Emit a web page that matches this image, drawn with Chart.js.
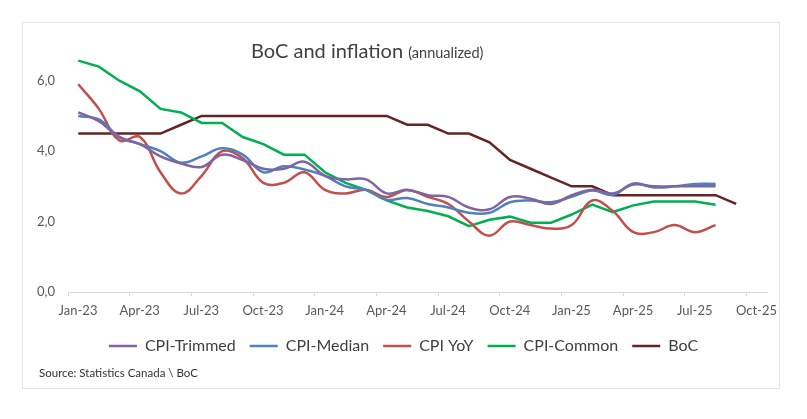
<!DOCTYPE html>
<html>
<head>
<meta charset="utf-8">
<script src="https://cdn.jsdelivr.net/npm/chart.js@4"></script>
<style>
  body { margin: 0; background: #fff; width: 807px; height: 419px; position: relative; overflow: hidden; font-family: Lato, sans-serif; }
  #frame { position: absolute; left: 22px; top: 22px; width: 756px; height: 365px; border: 1px solid #e6e6e6; }
  #chart { position: absolute; left: 0; top: 0; }
  #title { position: absolute; left: 251px; top: 40px; font-size: 20px; line-height: 1; color: #404040; white-space: nowrap; }
  #title small { font-size: 14.5px; }
  #source { position: absolute; left: 39px; top: 367px; font-size: 11.5px; line-height: 1; color: #333; white-space: nowrap; }
</style>
</head>
<body>
<div id="frame"></div>
<canvas id="chart" width="807" height="419"></canvas>
<div id="title">BoC and inflation <small>(annualized)</small></div>
<div id="source">Source: Statistics Canada \ BoC</div>
<script>
// monthly values, first point = Jan-23
const tickLabels = ['Jan-23', 'Apr-23', 'Jul-23', 'Oct-23', 'Jan-24', 'Apr-24', 'Jul-24', 'Oct-24', 'Jan-25', 'Apr-25', 'Jul-25', 'Oct-25'];

const cpiTrimmed = [5.1, 4.85, 4.4, 4.2, 3.85, 3.65, 3.55, 3.9, 3.75, 3.5, 3.5, 3.7, 3.3, 3.2, 3.2, 2.8, 2.9, 2.75, 2.7, 2.4, 2.35, 2.7, 2.65, 2.5, 2.75, 2.9, 2.8, 3.05, 3.0, 3.0, 3.0, 3.0];
const cpiMedian = [5.0, 4.9, 4.4, 4.2, 4.0, 3.67, 3.85, 4.08, 3.9, 3.4, 3.57, 3.48, 3.3, 3.0, 2.9, 2.62, 2.67, 2.5, 2.4, 2.25, 2.25, 2.55, 2.6, 2.55, 2.7, 2.88, 2.76, 3.08, 2.97, 3.0, 3.07, 3.07];
const cpiYoY = [5.9, 5.2, 4.3, 4.4, 3.4, 2.8, 3.3, 4.0, 3.8, 3.1, 3.1, 3.4, 2.9, 2.8, 2.9, 2.7, 2.9, 2.7, 2.5, 2.0, 1.6, 2.0, 1.9, 1.8, 1.9, 2.6, 2.3, 1.7, 1.7, 1.9, 1.7, 1.9];
const cpiCommon = [6.57, 6.4, 6.0, 5.7, 5.2, 5.1, 4.8, 4.8, 4.4, 4.2, 3.9, 3.9, 3.4, 3.1, 2.9, 2.6, 2.4, 2.3, 2.15, 1.87, 2.05, 2.14, 1.97, 1.97, 2.2, 2.48, 2.27, 2.46, 2.57, 2.57, 2.57, 2.48];
const boc = [4.5, 4.5, 4.5, 4.5, 4.5, 4.75, 5, 5, 5, 5, 5, 5, 5, 5, 5, 5, 4.75, 4.75, 4.5, 4.5, 4.25, 3.75, 3.5, 3.25, 3, 3, 2.75, 2.75, 2.75, 2.75, 2.75, 2.75, 2.5];

const font = 'Lato';

// each monthly value sits in the middle of its month
function toPoints(values) {
    return values.map((v, i) => ({ x: i + 0.5, y: v }));
}

function makeSeries(label, values, color, smooth) {
    return {
        label: label,
        data: toPoints(values),
        borderColor: color,
        backgroundColor: color,
        borderWidth: 2.5,
        pointRadius: 0,
        pointStyle: 'line',
        tension: smooth ? 0.4 : 0,
        fill: false,
    };
}

const datasets = [
    makeSeries('CPI-Trimmed', cpiTrimmed, '#8064A2', true),
    makeSeries('CPI-Median', cpiMedian, '#4F81BD', true),
    makeSeries('CPI YoY', cpiYoY, '#C0504D', true),
    makeSeries('CPI-Common', cpiCommon, '#00B050', false),
    makeSeries('BoC', boc, '#632523', false),
];

// nudge the legend a little to the right, like the original
const legendShift = {
    id: 'legendShift',
    afterLayout(chart) {
        chart.legend.left += 10;
        chart.legend.right += 10;
    },
};

new Chart(document.getElementById('chart').getContext('2d'), {
    type: 'line',
    data: { datasets: datasets },
    plugins: [legendShift],
    options: {
        responsive: false,
        animation: false,
        devicePixelRatio: 1,
        layout: { padding: { left: 20, right: 40, top: 45.5, bottom: 55 } },
        scales: {
            x: {
                type: 'linear',
                min: 0,
                max: 34,
                // one tick per quarter
                afterBuildTicks: (scale) => { scale.ticks = tickLabels.map((_, i) => ({ value: i * 3 })); },
                afterFit: (scale) => { scale.height = 32; },
                ticks: {
                    autoSkip: false,
                    maxRotation: 0,
                    labelOffset: 10,
                    padding: 7,
                    color: '#595959',
                    font: { family: font, size: 13 },
                    callback: (v) => tickLabels[v / 3],
                },
                grid: { drawOnChartArea: false, drawTicks: true, tickLength: 4, color: '#d9d9d9', lineWidth: 1 },
                border: { display: true, color: '#d9d9d9', width: 1 },
            },
            y: {
                min: 0,
                max: 7,
                afterBuildTicks: (scale) => { scale.ticks = scale.ticks.filter(t => t.value % 2 === 0); },
                afterFit: (scale) => { scale.width = 48; },
                ticks: {
                    stepSize: 2,
                    padding: 13,
                    color: '#595959',
                    font: { family: font, size: 13 },
                    callback: (v) => v.toFixed(1).replace('.', ','),
                },
                grid: { display: false, drawTicks: false },
                border: { display: false },
            },
        },
        plugins: {
            legend: {
                position: 'bottom',
                labels: {
                    usePointStyle: true,
                    pointStyle: 'line',
                    pointStyleWidth: 28,
                    padding: 14,
                    color: '#404040',
                    font: { family: font, size: 16 },
                },
            },
            tooltip: { enabled: false },
        },
    },
});
</script>
</body>
</html>
